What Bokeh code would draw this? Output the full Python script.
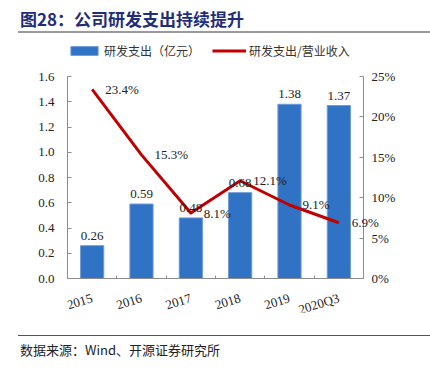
from bokeh.plotting import figure
from bokeh.layouts import column
from bokeh.models import (Range1d, LinearAxis, FixedTicker, ColumnDataSource, LabelSet,
                          Legend, LegendItem, NumeralTickFormatter, Div)
from bokeh.core.properties import value
from bokeh.embed import file_html
from bokeh.resources import INLINE

categories = ["2015", "2016", "2017", "2018", "2019", "2020Q3"]
rd_expense = [0.26, 0.59, 0.48, 0.68, 1.38, 1.37]           # 亿元
rd_ratio = [0.234, 0.153, 0.081, 0.121, 0.091, 0.069]       # 研发支出/营业收入
left_ticks = [0.0, 0.2, 0.4, 0.6, 0.8, 1.0, 1.2, 1.4, 1.6]
right_ticks = [0.0, 0.05, 0.10, 0.15, 0.20, 0.25]

title_text = "图28：公司研发支出持续提升"
footer_text = "数据来源：Wind、开源证券研究所"
legend_bar = "研发支出（亿元）"
legend_line = "研发支出/营业收入"

SERIF = "Liberation Serif"
CJK = "Noto Sans CJK SC"
BLUE = "#3072C3"
BAR_EDGE = "#6E9BD6"
RED = "#C00000"
AXIS = "#8C8C8C"

# ---- layout constants (pixels) ----
W = 430
HEAD_H = 40            # header strip (title + rule)
FIG_H = 322            # chart figure
FOOT_H = 40            # footer strip (rule + source), pulled up over the figure's empty bottom
FOOT_PULL = 32
L_BORDER, R_BORDER, B_BORDER = 67, 34, 50
AXIS_SPAN_X = 296      # pixel width of the category area
AXIS_SPAN_Y = 202      # pixel height of the value axes
ZERO_FROM_TOP = 238    # zero line, pixels below the frame top
frame_w = W - L_BORDER - R_BORDER
frame_h = FIG_H - B_BORDER
n = len(categories)
cat_w = AXIS_SPAN_X / n
top_f = ZERO_FROM_TOP / AXIS_SPAN_Y
bot_f = (frame_h - ZERO_FROM_TOP) / AXIS_SPAN_Y

# ---------------- header ----------------
header = Div(width=W, height=HEAD_H, margin=(0, 0, 0, 0), text=(
    '<div style="position:relative;width:%dpx;height:%dpx;">'
    '<div style="position:absolute;left:20px;top:8px;line-height:22px;white-space:nowrap;'
    'font-family:\'Noto Sans CJK SC\';font-size:17px;font-weight:bold;color:#1F2D7A;">%s</div>'
    '<div style="position:absolute;left:18px;top:31px;width:412px;height:2px;'
    'background:#9A9A9A;"></div></div>') % (W, HEAD_H, title_text))

# ---------------- main chart ----------------
xs = [i + 0.5 for i in range(n)]
src = ColumnDataSource(dict(
    x=xs, v=rd_expense, r=rd_ratio,
    vlab=["%.2f" % v for v in rd_expense],
    rlab=["%.1f%%" % (r * 100) for r in rd_ratio],
))

lmax, rmax = left_ticks[-1], right_ticks[-1]
p = figure(width=W, height=FIG_H, output_backend="svg", toolbar_location=None,
           x_range=Range1d(0, frame_w / cat_w),
           y_range=Range1d(-lmax * bot_f, lmax * top_f),
           min_border_left=L_BORDER, min_border_right=R_BORDER,
           min_border_top=0, min_border_bottom=B_BORDER,
           outline_line_color=None, margin=(0, 0, 0, 0))
p.xgrid.visible = False
p.ygrid.visible = False
p.extra_y_ranges = {"pct": Range1d(-rmax * bot_f, rmax * top_f)}

p.yaxis.ticker = FixedTicker(ticks=left_ticks)
p.yaxis.formatter = NumeralTickFormatter(format="0.0")
p.yaxis.bounds = (left_ticks[0], lmax)
ax_r = LinearAxis(y_range_name="pct", ticker=FixedTicker(ticks=right_ticks),
                  formatter=NumeralTickFormatter(format="0%"), fixed_location=n,
                  bounds=(right_ticks[0], rmax))
p.add_layout(ax_r, "right")

p.xaxis.fixed_location = 0
p.xaxis.ticker = FixedTicker(ticks=xs, minor_ticks=list(range(n + 1)))
p.xaxis.bounds = (0, n)
p.xaxis.major_label_overrides = {x: c for x, c in zip(xs, categories)}
p.xaxis.major_label_orientation = 0.3
p.xaxis.major_tick_in = 0
p.xaxis.major_tick_out = 0
p.xaxis.minor_tick_in = 3
p.xaxis.minor_tick_out = 0
p.xaxis.major_label_standoff = 19

p.yaxis.major_label_standoff = 13
ax_r.major_label_standoff = 8
for ax in [p.yaxis[0], ax_r]:
    ax.major_tick_in = 4
    ax.major_tick_out = 0
for ax in [p.xaxis[0], p.yaxis[0], ax_r]:
    ax.axis_line_color = AXIS
    ax.major_tick_line_color = AXIS
    ax.minor_tick_line_color = AXIS if ax is p.xaxis[0] else None
    ax.major_label_text_font = SERIF
    ax.major_label_text_font_size = "13px"
    ax.major_label_text_color = "#222222"

bars = p.vbar(x="x", top="v", bottom=0, width=0.47, source=src, fill_color=BLUE,
              line_color=BAR_EDGE, line_width=1)
line = p.line(x="x", y="r", source=src, y_range_name="pct", line_color=RED,
              line_width=3, line_join="round")

p.add_layout(LabelSet(x="x", y="v", text="vlab", source=src, y_offset=6,
                      text_align="center", text_baseline="bottom",
                      text_font=value(SERIF), text_font_size="13px", text_color="#222222"))
p.add_layout(LabelSet(x="x", y="r", text="rlab", source=src, y_range_name="pct",
                      x_offset=13, text_align="left", text_baseline="middle",
                      text_font=value(SERIF), text_font_size="13px", text_color="#222222"))

legend = Legend(items=[LegendItem(label=legend_bar, renderers=[bars]),
                       LegendItem(label=legend_line, renderers=[line])],
                orientation="horizontal", location=(0, frame_h - 18.5),
                glyph_width=34, glyph_height=11, label_standoff=3, spacing=12,
                padding=0, margin=0, border_line_color=None, background_fill_alpha=0,
                label_text_font=CJK, label_text_font_size="12px", label_text_color="#333333")
p.add_layout(legend)

# ---------------- footer ----------------
footer = Div(width=W, height=FOOT_H, margin=(-FOOT_PULL, 0, 0, 0), text=(
    '<div style="position:relative;width:%dpx;height:%dpx;">'
    '<div style="position:absolute;left:18px;top:5px;width:412px;height:1px;'
    'background:#555555;"></div>'
    '<div style="position:absolute;left:20px;top:11px;line-height:18px;white-space:nowrap;'
    'font-family:\'Noto Sans CJK SC\';font-size:13px;color:#222222;">%s</div></div>')
    % (W, FOOT_H, footer_text))

layout = column(header, p, footer, spacing=0)
open("out.html", "w").write(file_html(layout, INLINE))
